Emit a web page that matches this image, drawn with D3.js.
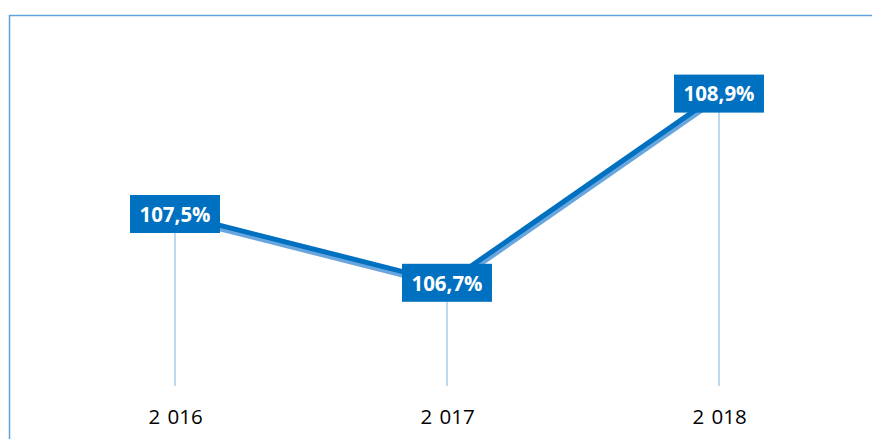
<!DOCTYPE html>
<html>
<head>
<meta charset="utf-8">
<script src="https://cdn.jsdelivr.net/npm/d3@7"></script>
<style>
  html, body { margin: 0; padding: 0; background: #fff; }
  svg { display: block; }
</style>
</head>
<body>
<div id="chart"></div>
<script>
const years = ["2 016", "2 017", "2 018"];
const values = [107.5, 106.7, 108.9];
const valueLabels = ["107,5%", "106,7%", "108,9%"];

const width = 872, height = 439;
const svg = d3.select("#chart").append("svg")
    .attr("width", width)
    .attr("height", height);

// frame: left and top edges only
svg.append("path")
    .attr("d", `M9.5,${height} V15.5 H${width}`)
    .attr("fill", "none")
    .attr("stroke", "#5fa3dc")
    .attr("stroke-width", 1.5);

const x = d3.scalePoint()
    .domain(years)
    .range([175, 719]);

const y = d3.scaleLinear()
    .domain([105.5, 110])
    .range([386, -1]);

const baseY = 386;
const pts = years.map((yr, i) => ({ yr, v: values[i], label: valueLabels[i] }));

// drop lines
svg.append("g")
    .selectAll("line")
    .data(pts)
    .join("line")
    .attr("x1", d => x(d.yr))
    .attr("x2", d => x(d.yr))
    .attr("y1", d => y(d.v))
    .attr("y2", baseY)
    .attr("stroke", "#a9cbe9")
    .attr("stroke-width", 1.5);

const line = d3.line()
    .x(d => x(d.yr))
    .y(d => y(d.v));

// lighter shadow line underneath
svg.append("path")
    .datum(pts)
    .attr("d", line)
    .attr("transform", "translate(1,4)")
    .attr("fill", "none")
    .attr("stroke", "#6aa6de")
    .attr("stroke-width", 4.5);

svg.append("path")
    .datum(pts)
    .attr("d", line)
    .attr("fill", "none")
    .attr("stroke", "#0070c0")
    .attr("stroke-width", 5);

// value labels
const lab = svg.append("g")
    .selectAll("g")
    .data(pts)
    .join("g")
    .attr("transform", d => `translate(${x(d.yr)},${y(d.v)})`);

lab.append("rect")
    .attr("x", -45)
    .attr("y", -19)
    .attr("width", 90)
    .attr("height", 38)
    .attr("fill", "#0070c0");

lab.append("text")
    .attr("text-anchor", "middle")
    .attr("dy", "0.36em")
    .attr("fill", "#fff")
    .attr("font-family", "'Open Sans', sans-serif")
    .attr("font-weight", 700)
    .attr("font-size", 21.5)
    .attr("textLength", 71)
    .attr("lengthAdjust", "spacingAndGlyphs")
    .text(d => d.label);

// category axis labels
const axis = d3.axisBottom(x).tickSize(0).tickPadding(0);
const gx = svg.append("g")
    .attr("transform", "translate(0,424)")
    .call(axis);
gx.select(".domain").remove();
gx.selectAll("text")
    .attr("dy", 0)
    .attr("fill", "#000")
    .attr("font-family", "'Open Sans', sans-serif")
    .attr("font-size", 20.5)
    .style("word-spacing", "2px");
</script>
</body>
</html>
